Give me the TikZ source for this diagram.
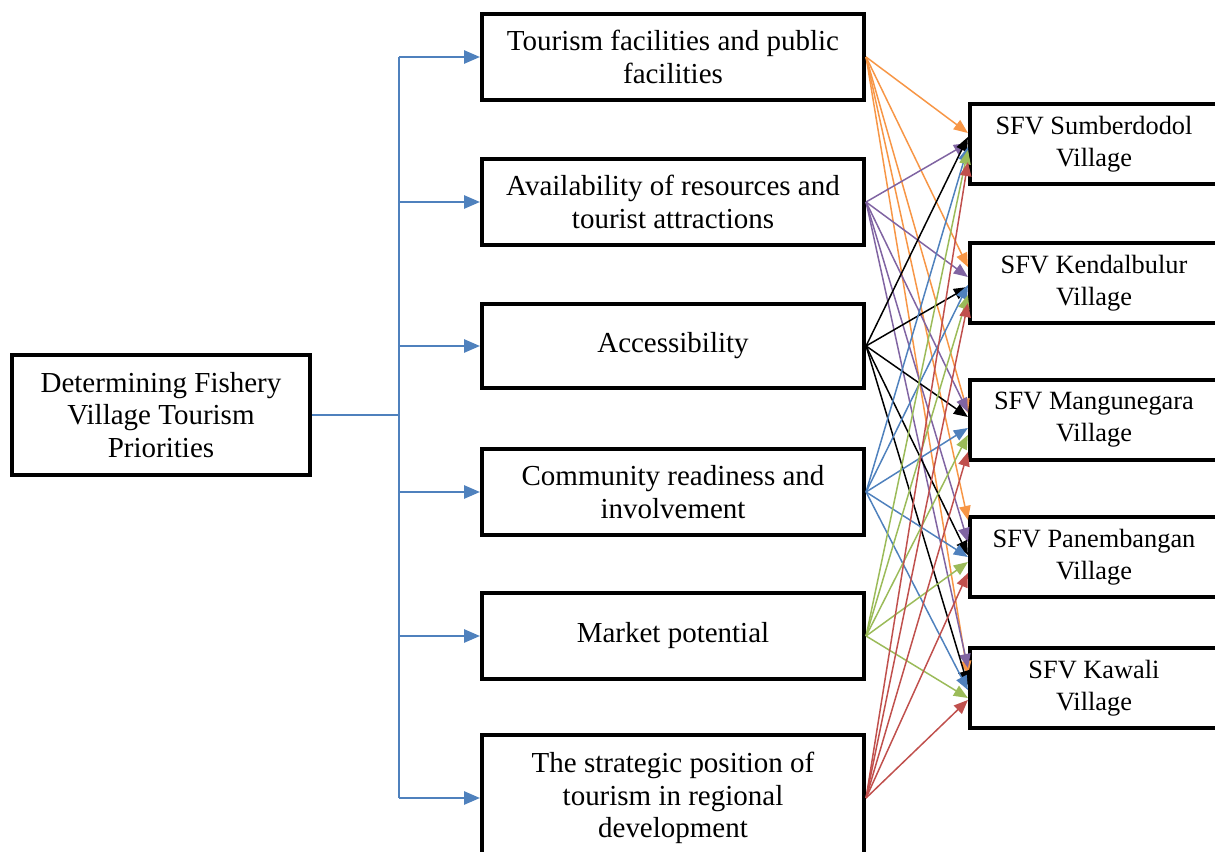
\documentclass[tikz,border=0pt]{standalone}
\usepackage{fontspec}
\setmainfont{Liberation Serif}
\usetikzlibrary{arrows.meta,calc}

\definecolor{linkblue}{HTML}{4F81BD}
\definecolor{linkorange}{HTML}{F79646}
\definecolor{linkpurple}{HTML}{8064A2}
\definecolor{linkgreen}{HTML}{9BBB59}
\definecolor{linkred}{HTML}{C0504D}

\tikzset{
  box/.style={draw, line width=2.4pt, align=center, inner sep=2pt},
  crit/.style={box, minimum width=7.64cm, minimum height=1.72cm},
  vil/.style={box, minimum width=4.96cm, minimum height=1.6cm, font=\fontsize{15}{18.2}\selectfont},
  link/.style={line width=0.85pt, -{Triangle[length=8pt,width=6.5pt]}}
}

\begin{document}
\begin{tikzpicture}[x=0.02cm, y=-0.02cm]
	\useasboundingbox (0,0) rectangle (1215,852);
	\begin{scope}[every node/.style={font=\fontsize{16.5}{18.7}\selectfont}]
		\node[box, minimum width=5.96cm, minimum height=2.4cm] (prio) at (161,415) {Determining Fishery\\Village Tourism\\Priorities};
		\node[crit] (fac) at (673,57) {Tourism facilities and public\\facilities};
		\node[crit] (res) at (673,202) {Availability of resources and\\tourist attractions};
		\node[crit, minimum height=1.68cm] (acc) at (673,346) {Accessibility};
		\node[crit] (com) at (673,492) {Community readiness and\\involvement};
		\node[crit] (mkt) at (673,636) {Market potential};
		\node[crit, minimum height=2.52cm] (pos) at (673,798) {The strategic position of\\tourism in regional\\development};
	\end{scope}
	\begin{scope}[every node/.style={vil}]
		\node (sum) at (1094,144) {SFV Sumberdodol\\Village};
		\node (ken) at (1094,283) {SFV Kendalbulur\\Village};
		\node (man) at (1094,420) {SFV Mangunegara\\Village};
		\node (pan) at (1094,557) {SFV Panembangan\\Village};
		\node (kaw) at (1094,688) {SFV Kawali\\Village};
	\end{scope}
	\begin{scope}[linkblue, line width=1.1pt]
		\coordinate (trunk) at (399,415);
		\draw (prio) -- (trunk);
		\draw (trunk |- fac.west) -- (trunk |- pos.west);
		\foreach \c in {fac,res,acc,com,mkt,pos}
			\draw[-{Triangle[length=9pt,width=7.5pt]}] (trunk |- \c.west) -- (\c.west);
	\end{scope}
	\begin{scope}[link]
		\foreach \t/\o in {sum/-11, ken/-16, man/-7, pan/-37, kaw/-13}
			\path (fac.east) edge[linkorange] ($(\t.west)+(0,\o)$);
		\foreach \t/\o in {sum/-1, ken/-6, man/-8, pan/-15, kaw/-20}
			\path (res.east) edge[linkpurple] ($(\t.west)+(0,\o)$);
		\foreach \t/\o in {sum/-7, ken/4, man/-3, pan/-2, kaw/-3}
			\path (acc.east) edge[black] ($(\t.west)+(0,\o)$);
		\foreach \t/\o in {sum/3, ken/2, man/8, pan/0, kaw/2}
			\path (com.east) edge[linkblue] ($(\t.west)+(0,\o)$);
		\foreach \t/\o in {sum/6, ken/12, man/15, pan/5, kaw/10}
			\path (mkt.east) edge[linkgreen] ($(\t.west)+(0,\o)$);
		\foreach \t/\o in {sum/18, ken/20, man/32, pan/16, kaw/12}
			\path (pos.east) edge[linkred] ($(\t.west)+(0,\o)$);
	\end{scope}
\end{tikzpicture}
\end{document}
